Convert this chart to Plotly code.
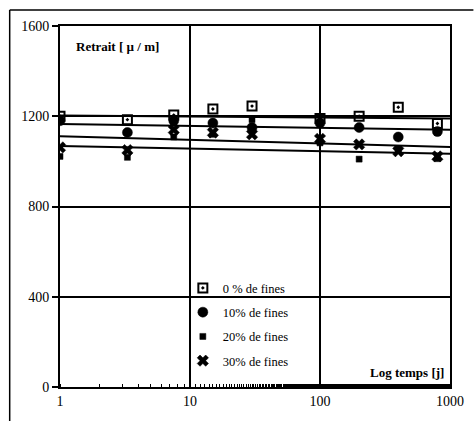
import plotly.graph_objects as go

# Data
ages = [1, 3.3, 7.5, 15, 30, 100, 200, 400, 800]
s0 = [1200, 1185, 1205, 1232, 1245, 1190, 1200, 1240, 1168]
s10 = [1180, 1128, 1180, 1170, 1150, 1170, 1150, 1108, 1132]
s20 = [1022, 1018, 1108, 1120, 1185, 1082, 1010, 1055, 1012]
s30 = [1062, 1050, 1140, 1128, 1120, 1100, 1075, 1045, 1022]

fit_x = [1, 1000]
fit0 = [1203, 1190]
fit10 = [1166, 1140]
fit20 = [1111, 1064]
fit30 = [1068, 1034]

names = ["0 % de fines", "10% de fines", "20% de fines", "30% de fines"]
series = [s0, s10, s20, s30]
fits = [fit0, fit10, fit20, fit30]
symbols = ["square-open-dot", "circle", "square", "x"]
sizes = [9, 10, 6, 10]

FONT = "Liberation Serif"
fig = go.Figure()

for f in fits:
    fig.add_trace(go.Scatter(x=fit_x, y=f, mode="lines", line=dict(color="black", width=2),
                             showlegend=False, hoverinfo="skip"))

for i, (n, s) in enumerate(zip(names, series)):
    fig.add_trace(go.Scatter(
        x=ages, y=s, mode="markers", name=n, legendgroup=str(i),
        marker=dict(symbol=symbols[i], size=sizes[i], color="black",
                    line=dict(color="black", width=2 if i == 0 else 0.5)),
    ))

frame = dict(color="black", width=1.5)
fig.update_layout(
    width=476, height=421,
    margin=dict(l=60, r=20, t=26, b=32),
    paper_bgcolor="white", plot_bgcolor="white",
    font=dict(family=FONT, color="black", size=13),
    legend=dict(x=0.315, y=0.315, xanchor="left", yanchor="top",
                bgcolor="rgba(0,0,0,0)", font=dict(family=FONT, size=12.5),
                tracegroupgap=5, itemwidth=30),
    shapes=[
        dict(type="line", xref="paper", yref="paper", x0=-0.129, x1=1.06, y0=1.044, y1=1.044, line=frame),
        dict(type="line", xref="paper", yref="paper", x0=-0.129, x1=-0.129, y0=-0.1, y1=1.044, line=frame),
    ],
    annotations=[
        dict(text="<b>Retrait [ µ / m]</b>", xref="paper", yref="paper", x=0.035, y=0.97,
             xanchor="left", yanchor="top", showarrow=False, font=dict(family=FONT, size=13)),
        dict(text="<b>Log temps [j]</b>", xref="paper", yref="paper", x=0.99, y=0.015,
             xanchor="right", yanchor="bottom", showarrow=False, font=dict(family=FONT, size=13)),
    ],
)

fig.update_xaxes(
    type="log", range=[0, 3], tickvals=[1, 10, 100, 1000], ticktext=["1", "10", "100", "1000"],
    showgrid=True, gridcolor="black", gridwidth=1.5,
    showline=True, linecolor="black", linewidth=2, mirror=True,
    ticks="", tickfont=dict(family=FONT, size=14), zeroline=False,
    minor=dict(ticks="inside", ticklen=3, tickcolor="black", showgrid=False),
)
fig.update_yaxes(
    range=[0, 1600], tickvals=[0, 400, 800, 1200, 1600],
    showgrid=True, gridcolor="black", gridwidth=1.5,
    showline=True, linecolor="black", linewidth=2, mirror=True,
    ticks="outside", ticklen=6, tickcolor="black", tickwidth=1.5,
    tickfont=dict(family=FONT, size=14), zeroline=False,
)

fig.write_html("out.html")
